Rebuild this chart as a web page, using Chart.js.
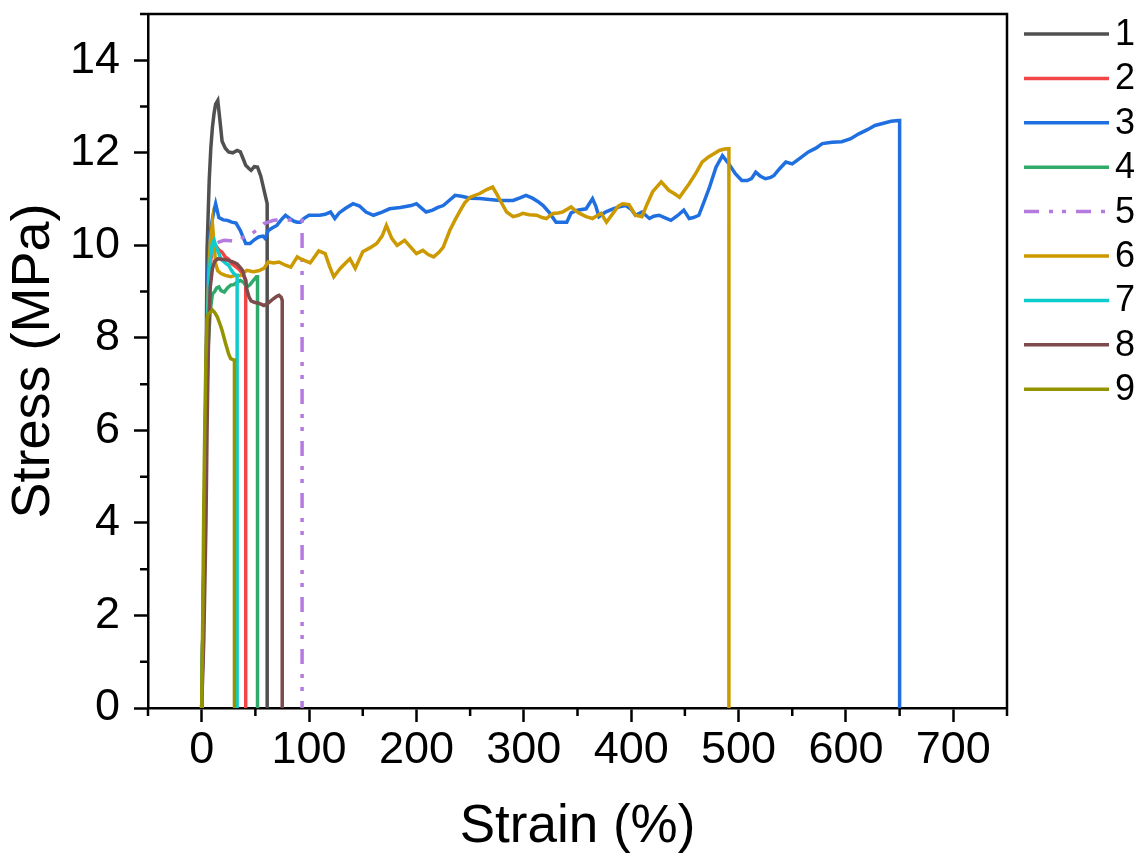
<!DOCTYPE html>
<html>
<head>
<meta charset="utf-8">
<script src="https://cdn.jsdelivr.net/npm/chart.js@4.4.1/dist/chart.umd.min.js"></script>
<style>
  body { margin: 0; background: #fff; }
  #chart { display: block; }
</style>
</head>
<body>
<canvas id="chart" width="1143" height="859"></canvas>
<script>
// sample names and tick values
const sampleLabels = ['1', '2', '3', '4', '5', '6', '7', '8', '9'];
const xTicks = [0, 100, 200, 300, 400, 500, 600, 700];
const yTicks = [0, 2, 4, 6, 8, 10, 12, 14];
const xMinorTicks = [-50, 50, 150, 250, 350, 450, 550, 650, 750];
const yMinorTicks = [1, 3, 5, 7, 9, 11, 13, 15];

// [strain %, stress MPa]
const sample1 = [[0,0],[2,3],[4,7],[5,9.9],[7,11.4],[8.5,12.1],[10,12.55],[11.5,12.85],[13,13.05],[15,13.13],
  [17,12.7],[19,12.25],[22,12.1],[25,12.02],[29,12.0],[33,12.05],[36,12.02],[39,11.85],[41,11.73],[44,11.66],
  [46,11.62],[49,11.7],[52,11.69],[55,11.5],[58,11.2],[60,11.0],[61,10.9],[61,0]];

const sample2 = [[0,0],[2,2.5],[4,6],[6,8.5],[8,9.6],[10,9.95],[13,10.0],[16,9.9],[19,9.85],[22,9.75],
  [25,9.7],[28,9.6],[31,9.55],[34,9.5],[37,9.42],[39,9.35],[41,9.25],[41,0]];

const sample3 = [[0,0],[2,3],[4,7],[6,9.5],[8,10.3],[11,10.7],[13,10.9],[16,10.6],[20,10.55],[24,10.54],
  [28,10.5],[32,10.48],[36,10.32],[39,10.15],[41,10.04],[45,10.04],[49,10.12],[53,10.18],[57,10.2],[59,10.15],
  [62,10.32],[66,10.38],[70,10.43],[74,10.55],[78,10.65],[82,10.58],[86,10.52],[89,10.5],[92,10.5],[95,10.58],
  [100,10.65],[104,10.65],[110,10.65],[115,10.67],[120,10.72],[124,10.58],[128,10.7],[134,10.8],[141,10.9],[147,10.85],
  [153,10.72],[160,10.65],[168,10.72],[175,10.79],[185,10.82],[195,10.86],[200,10.9],[205,10.8],[209,10.72],[215,10.76],
  [220,10.82],[225,10.86],[231,10.98],[236,11.08],[242,11.06],[250,11.02],[259,11.01],[268,10.99],[278,10.97],[290,10.97],
  [297,11.03],[302,11.08],[308,11.02],[313,10.95],[318,10.86],[324,10.7],[330,10.5],[335,10.5],[340,10.5],[344,10.7],
  [350,10.76],[358,10.79],[364,11.01],[367,10.85],[370,10.62],[376,10.72],[383,10.79],[390,10.84],[395,10.86],[400,10.78],
  [404,10.65],[410,10.72],[417,10.58],[421,10.63],[426,10.65],[431,10.6],[437,10.54],[443,10.64],[449,10.76],[454,10.58],
  [458,10.6],[463,10.65],[468,10.95],[473,11.26],[479,11.69],[485,11.94],[491,11.76],[497,11.55],[503,11.4],[508,11.4],
  [512,11.44],[516,11.58],[520,11.5],[525,11.44],[530,11.47],[533,11.51],[538,11.65],[544,11.8],[550,11.76],[557,11.88],
  [565,12.02],[572,12.1],[578,12.2],[587,12.23],[596,12.24],[604,12.3],[612,12.41],[620,12.5],[627,12.59],[635,12.64],
  [642,12.68],[649,12.7],[650,12.7],[650,0]];

const sample4 = [[0,0],[2,3],[4,6],[6,7.8],[8,8.6],[10,8.95],[12,9.0],[14,9.08],[16,9.1],[18,9.02],
  [21,8.99],[24,9.08],[27,9.14],[30,9.15],[33,9.2],[36,9.24],[39,9.2],[42,9.1],[45,9.15],[48,9.24],
  [51,9.32],[52,9.32],[52,0]];

const sample5 = [[0,0],[2,3],[4,6.5],[6,8.8],[8,9.7],[10,9.95],[13,10.04],[17,10.08],[21,10.11],[27,10.1],
  [33,10.08],[36,10.12],[39,10.18],[44,10.22],[49,10.29],[53,10.36],[58,10.47],[62,10.5],[67,10.54],[73,10.55],
  [80,10.55],[86,10.55],[92,10.54],[93.5,10.54],[93.5,0]];

const sample6 = [[0,0],[2,3],[4,6.5],[6,9],[8,10.1],[10,10.47],[12,9.9],[13,9.6],[15,9.45],[18,9.39],
  [22,9.35],[27,9.32],[31,9.35],[36,9.35],[42,9.46],[48,9.43],[53,9.45],[58,9.5],[62,9.64],[67,9.62],
  [72,9.64],[78,9.57],[83,9.53],[89,9.75],[92,9.71],[95,9.68],[101,9.62],[105,9.75],[109,9.88],[115,9.82],
  [119,9.55],[123,9.32],[129,9.5],[134,9.62],[138,9.71],[143,9.5],[150,9.86],[157,9.95],[163,10.04],[168,10.2],
  [172,10.43],[177,10.15],[182,10.0],[189,10.11],[195,9.95],[200,9.82],[206,9.89],[211,9.8],[216,9.75],[221,9.85],
  [225,9.96],[231,10.32],[236,10.55],[241,10.76],[245,10.92],[250,11.04],[259,11.12],[265,11.2],[271,11.26],[275,11.1],
  [278,10.97],[284,10.72],[290,10.62],[295,10.65],[299,10.69],[305,10.66],[312,10.65],[317,10.6],[321,10.58],[327,10.69],
  [332,10.7],[336,10.72],[344,10.83],[348,10.75],[352,10.69],[358,10.62],[364,10.58],[368,10.64],[372,10.69],[377,10.5],
  [383,10.69],[388,10.85],[392,10.9],[398,10.88],[404,10.65],[410,10.62],[415,10.9],[420,11.16],[428,11.37],[435,11.19],
  [440,11.12],[445,11.04],[450,11.2],[454,11.33],[460,11.55],[466,11.8],[472,11.91],[477,11.98],[482,12.05],[487,12.08],
  [491,12.09],[491,0]];

const sample7 = [[0,0],[2,3],[4,6.5],[6,8.8],[8,9.7],[10,10.05],[11.5,10.11],[13,10.0],[16,9.82],[18,9.7],
  [21,9.64],[23,9.6],[25,9.57],[28,9.45],[30,9.39],[32,9.35],[33,9.35],[33,0]];

const sample8 = [[0,0],[2,1.5],[4,4],[5,6],[6,7.5],[7,8.5],[8,9.1],[10,9.5],[12,9.65],[15,9.71],
  [19,9.7],[24,9.68],[29,9.64],[33,9.6],[36,9.52],[38,9.46],[40,9.3],[41,9.24],[42,9.05],[44,8.89],
  [46,8.8],[49,8.77],[53,8.75],[58,8.7],[62,8.75],[67,8.85],[70,8.9],[72,8.92],[74,8.88],[75,8.81],[75,0]];

const sample9 = [[0,0],[1,2],[2,4.5],[3,6.3],[4,7.6],[5,8.4],[6,8.52],[8,8.55],[10,8.6],[12,8.55],
  [14.6,8.45],[17,8.3],[19,8.16],[22,7.9],[25,7.66],[27,7.55],[30,7.52],[30.5,7.52],[30.5,0]];

const allSamples = [sample1, sample2, sample3, sample4, sample5, sample6, sample7, sample8, sample9];
const colors = ['#505050', '#f24646', '#1f6fe0', '#2faa6a', '#b57ae0', '#cc9900', '#0fcccc', '#7d4b4b', '#949400'];
const dashDotDot = [15, 10, 4, 9, 4, 10];

const datasets = allSamples.map((pts, i) => ({
    label: sampleLabels[i],
    data: pts.map(p => ({ x: p[0], y: p[1] })),
    borderColor: colors[i],
    borderWidth: 3.5,
    borderDash: i === 4 ? dashDotDot : [],
    pointRadius: 0,
    tension: 0,
    fill: false,
    order: allSamples.length - i   // later samples drawn on top
}));

const FONT = '"Liberation Sans", Arial, sans-serif';

// closing frame + minor ticks
const frameAndMinor = {
    id: 'frameAndMinor',
    afterDraw(chart) {
        const { ctx, chartArea: a, scales } = chart;
        ctx.save();
        ctx.strokeStyle = '#000';
        ctx.lineWidth = 2.5;
        ctx.beginPath();
        ctx.moveTo(a.left, a.top);
        ctx.lineTo(a.right, a.top);
        ctx.lineTo(a.right, a.bottom);
        ctx.stroke();

        ctx.beginPath();
        xMinorTicks.forEach(v => {
            const px = scales.x.getPixelForValue(v);
            ctx.moveTo(px, a.bottom);
            ctx.lineTo(px, a.bottom + 8);
        });
        yMinorTicks.forEach(v => {
            const py = scales.y.getPixelForValue(v);
            ctx.moveTo(a.left, py);
            ctx.lineTo(a.left - 8, py);
        });
        ctx.stroke();
        ctx.restore();
    }
};

// legend with line samples on the right
const sideLegend = {
    id: 'sideLegend',
    afterDraw(chart) {
        const ctx = chart.ctx;
        ctx.save();
        ctx.font = '36px ' + FONT;
        ctx.textBaseline = 'middle';
        ctx.textAlign = 'left';
        chart.data.datasets.forEach((ds, i) => {
            const y = 34 + i * 44.4;
            ctx.strokeStyle = ds.borderColor;
            ctx.lineWidth = 3.5;
            ctx.setLineDash(ds.borderDash);
            ctx.beginPath();
            ctx.moveTo(1024, y);
            ctx.lineTo(1109, y);
            ctx.stroke();
            ctx.setLineDash([]);
            ctx.fillStyle = '#000';
            ctx.fillText(ds.label, 1115, y + 1);
        });
        ctx.restore();
    }
};

const ctx = document.getElementById('chart').getContext('2d');
const chart = new Chart(ctx, {
    type: 'line',
    data: { datasets: datasets },
    plugins: [frameAndMinor, sideLegend],
    options: {
        responsive: false,
        animation: false,
        devicePixelRatio: 1,
        layout: { padding: { top: 14, right: 136, left: 0, bottom: 0 } },
        plugins: {
            legend: { display: false },
            tooltip: { enabled: false }
        },
        scales: {
            x: {
                type: 'linear',
                min: -50,
                max: 750,
                afterBuildTicks: s => { s.ticks = xTicks.map(v => ({ value: v })); },
                afterFit: s => { s.height = 151; s.paddingLeft = 0; s.paddingRight = 0; },
                grid: { drawOnChartArea: false, drawTicks: true, tickLength: 14, tickWidth: 2.5, tickColor: '#000' },
                border: { display: true, color: '#000', width: 2.5 },
                ticks: { color: '#000', padding: 2, maxRotation: 0, font: { family: FONT, size: 45 } },
                title: { display: true, text: 'Strain (%)', color: '#000', padding: { top: 0, bottom: 0 }, font: { family: FONT, size: 53 } }
            },
            y: {
                min: 0,
                max: 15,
                afterBuildTicks: s => { s.ticks = yTicks.map(v => ({ value: v })); },
                afterFit: s => { s.width = 148; s.paddingTop = 0; s.paddingBottom = 0; },
                grid: { drawOnChartArea: false, drawTicks: true, tickLength: 14, tickWidth: 2.5, tickColor: '#000' },
                border: { display: true, color: '#000', width: 2.5 },
                ticks: { color: '#000', padding: 14, font: { family: FONT, size: 45 } },
                title: { display: true, text: 'Stress (MPa)', color: '#000', padding: { top: 2, bottom: 0 }, font: { family: FONT, size: 54 } }
            }
        }
    }
});
</script>
</body>
</html>
